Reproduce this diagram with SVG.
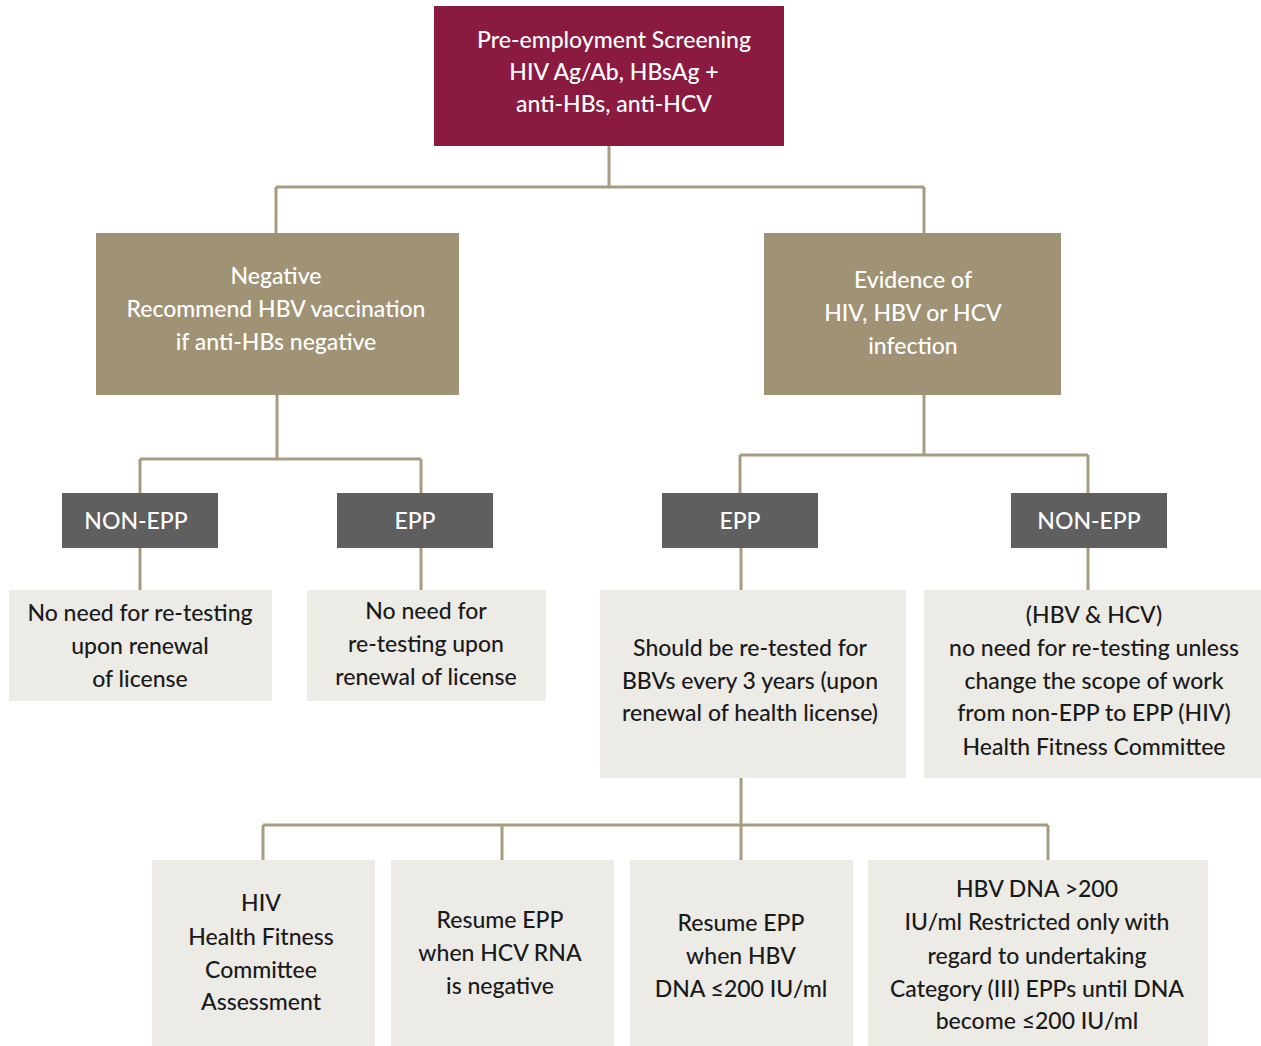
<svg xmlns="http://www.w3.org/2000/svg" width="1261" height="1046" viewBox="0 0 1261 1046">
<style>
.top{fill:#8A1A3F}
.tan{fill:#A09274}
.dk{fill:#5F5F5F}
.lt{fill:#EDEBE6}
text{font-family:Lato,"Open Sans","Noto Sans",sans-serif;font-size:23px;font-weight:500;text-anchor:middle;dominant-baseline:central}
.w{fill:#FFFFFF}
.b{fill:#1A1A1A}
.con{fill:none;stroke:#A89C80;stroke-width:3}
</style>
<rect width="1261" height="1046" fill="#FFFFFF"/>
<g id="connectors">
<path class="con" d="M609 146V187M276 187H924M276 187V233M924 187V233"/>
<path class="con" d="M277 395V459M140 459H421M140 459V493M421 459V493M140 548V590M421 548V590"/>
<path class="con" d="M924 395V455M740 455H1088M740 455V493M1088 455V493M741 548V590M1088 548V590"/>
<path class="con" d="M741 778V825M263 825H1048M263 825V860M502 825V860M741 825V860M1048 825V860"/>
</g>
<g id="n-screening">
<rect class="top" x="434" y="6" width="350" height="140"/>
<text class="w" x="614" y="39">Pre-employment Screening</text>
<text class="w" x="614" y="71">HIV Ag/Ab, HBsAg +</text>
<text class="w" x="614" y="103">anti-HBs, anti-HCV</text>
</g>
<g id="n-negative">
<rect class="tan" x="96" y="233" width="363" height="162"/>
<text class="w" x="276" y="275">Negative</text>
<text class="w" x="276" y="308">Recommend HBV vaccination</text>
<text class="w" x="276" y="341">if anti-HBs negative</text>
</g>
<g id="n-evidence">
<rect class="tan" x="764" y="233" width="297" height="162"/>
<text class="w" x="913" y="279">Evidence of</text>
<text class="w" x="913" y="312">HIV, HBV or HCV</text>
<text class="w" x="913" y="345">infection</text>
</g>
<g id="n-nonepp-left">
<rect class="dk" x="62" y="493" width="156" height="55"/>
<text class="w" x="136" y="520">NON-EPP</text>
</g>
<g id="n-epp-left">
<rect class="dk" x="337" y="493" width="156" height="55"/>
<text class="w" x="415" y="520">EPP</text>
</g>
<g id="n-epp-right">
<rect class="dk" x="662" y="493" width="156" height="55"/>
<text class="w" x="740" y="520">EPP</text>
</g>
<g id="n-nonepp-right">
<rect class="dk" x="1011" y="493" width="156" height="55"/>
<text class="w" x="1089" y="520">NON-EPP</text>
</g>
<g id="n-noneed1">
<rect class="lt" x="9" y="590" width="263" height="111"/>
<text class="b" x="140" y="612">No need for re-testing</text>
<text class="b" x="140" y="645">upon renewal</text>
<text class="b" x="140" y="678">of license</text>
</g>
<g id="n-noneed2">
<rect class="lt" x="307" y="590" width="239" height="111"/>
<text class="b" x="426" y="610">No need for</text>
<text class="b" x="426" y="643">re-testing upon</text>
<text class="b" x="426" y="676">renewal of license</text>
</g>
<g id="n-retest">
<rect class="lt" x="600" y="590" width="306" height="188"/>
<text class="b" x="750" y="647">Should be re-tested for</text>
<text class="b" x="750" y="680">BBVs every 3 years (upon</text>
<text class="b" x="750" y="712">renewal of health license)</text>
</g>
<g id="n-hbvhcv">
<rect class="lt" x="924" y="590" width="337" height="188"/>
<text class="b" x="1094" y="614">(HBV &amp; HCV)</text>
<text class="b" x="1094" y="647">no need for re-testing unless</text>
<text class="b" x="1094" y="680">change the scope of work</text>
<text class="b" x="1094" y="712">from non-EPP to EPP (HIV)</text>
<text class="b" x="1094" y="746">Health Fitness Committee</text>
</g>
<g id="n-hiv">
<rect class="lt" x="152" y="860" width="223" height="186"/>
<text class="b" x="261" y="902">HIV</text>
<text class="b" x="261" y="936">Health Fitness</text>
<text class="b" x="261" y="969">Committee</text>
<text class="b" x="261" y="1001">Assessment</text>
</g>
<g id="n-hcv">
<rect class="lt" x="391" y="860" width="223" height="186"/>
<text class="b" x="500" y="919">Resume EPP</text>
<text class="b" x="500" y="952">when HCV RNA</text>
<text class="b" x="500" y="985">is negative</text>
</g>
<g id="n-hbv">
<rect class="lt" x="630" y="860" width="223" height="186"/>
<text class="b" x="741" y="922">Resume EPP</text>
<text class="b" x="741" y="955">when HBV</text>
<text class="b" x="741" y="988">DNA ≤200 IU/ml</text>
</g>
<g id="n-restricted">
<rect class="lt" x="868" y="860" width="340" height="186"/>
<text class="b" x="1037" y="888">HBV DNA &gt;200</text>
<text class="b" x="1037" y="921">IU/ml Restricted only with</text>
<text class="b" x="1037" y="955">regard to undertaking</text>
<text class="b" x="1037" y="988">Category (III) EPPs until DNA</text>
<text class="b" x="1037" y="1020">become ≤200 IU/ml</text>
</g>
</svg>
